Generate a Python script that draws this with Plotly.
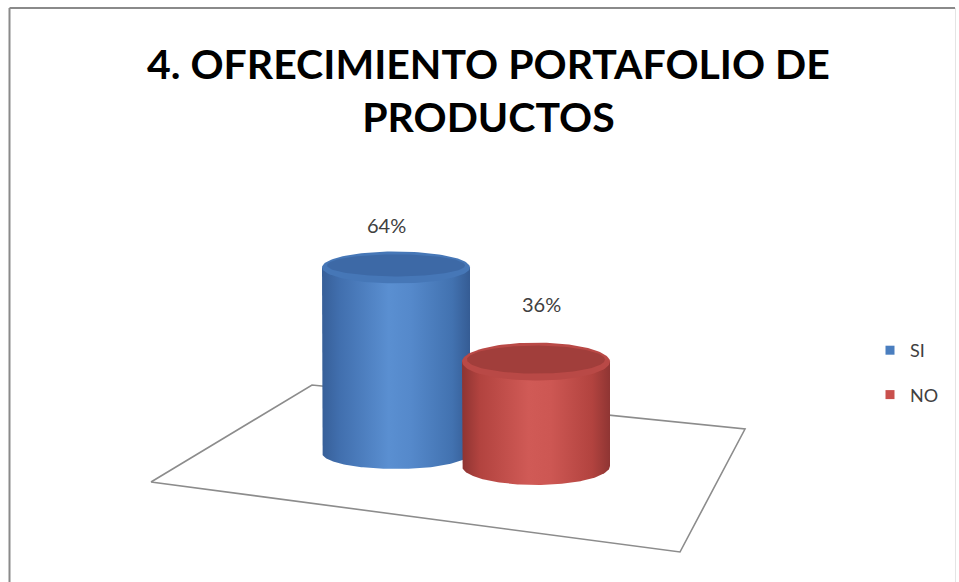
import numpy as np
import plotly.graph_objects as go

# ---- data ----
categories = ["SI", "NO"]
values = [64, 36]  # percent
colors_main = ["#4a7ebf", "#c9504d"]

# ---- layout of the pseudo-3D scene (pixel-like coordinates) ----
W, H = 959, 582
base_cx = [396, 536]          # centre of each cylinder base
base_cy = [453, 466]
radius_x = [74, 74]
radius_y = [16, 19]
px_per_pct = 2.9
label_gap = [42, 58]
label_dx = [-10, 5]

body_scales = [
    [[0, "#375f98"], [0.12, "#416fae"], [0.45, "#5a8fd1"], [0.6, "#5589cb"], [0.88, "#4272b0"], [1, "#355c94"]],
    [[0, "#8e3432"], [0.12, "#b2433f"], [0.45, "#d05a56"], [0.6, "#cd5753"], [0.88, "#b2433f"], [1, "#8f3533"]],
]
top_rim = ["#4677b7", "#b94946"]
top_inner = ["#3d69a6", "#a13e3b"]

fig = go.Figure()

# floor parallelogram
floor = [(151, 482), (312, 385), (745, 429), (680, 552), (151, 482)]
fig.add_trace(go.Scatter(
    x=[p[0] for p in floor], y=[p[1] for p in floor], mode="lines",
    line=dict(color="#8c8c8c", width=1.6), showlegend=False, hoverinfo="skip"))


def ellipse(cx, cy, a, b, t0=0, t1=2 * np.pi, n=120):
    t = np.linspace(t0, t1, n)
    return cx + a * np.cos(t), cy + b * np.sin(t)


annotations = []
for i, (cat, v) in enumerate(zip(categories, values)):
    cx, cy, a, b = base_cx[i], base_cy[i], radius_x[i], radius_y[i]
    top = cy - v * px_per_pct
    # body: left side down, front half of the base ellipse (y axis is reversed), right side up
    lx, ly = ellipse(cx, cy, a, b, np.pi, 0)
    xs = np.concatenate([[cx - a], lx, [cx + a, cx - a]])
    ys = np.concatenate([[top], ly, [top, top]])
    fig.add_trace(go.Scatter(
        x=xs, y=ys, fill="toself", mode="lines", line=dict(width=0),
        fillgradient=dict(type="horizontal", colorscale=body_scales[i]),
        showlegend=False, hoverinfo="skip"))
    # top face: lighter rim with darker inner disc
    ex, ey = ellipse(cx, top, a, b)
    fig.add_trace(go.Scatter(x=ex, y=ey, fill="toself", mode="lines", line=dict(width=0),
                             fillcolor=top_rim[i], showlegend=False, hoverinfo="skip"))
    ix, iy = ellipse(cx, top - 2, a - 5, b - 5)
    fig.add_trace(go.Scatter(x=ix, y=iy, fill="toself", mode="lines", line=dict(width=0),
                             fillcolor=top_inner[i], showlegend=False, hoverinfo="skip"))
    annotations.append(dict(
        x=cx + label_dx[i], y=top - label_gap[i], xref="x", yref="y",
        text=f"{v}%", showarrow=False,
        font=dict(family="Lato, Carlito, sans-serif", size=20, color="#404040")))

# legend entries
for i, cat in enumerate(categories):
    fig.add_trace(go.Scatter(
        x=[None], y=[None], mode="markers", name=cat, legendgroup=cat,
        marker=dict(symbol="square", size=9, color=colors_main[i])))

annotations.append(dict(
    x=488, y=90, xref="x", yref="y", yanchor="middle",
    text="4. OFRECIMIENTO PORTAFOLIO DE<br>PRODUCTOS", showarrow=False,
    font=dict(family="Lato, sans-serif", size=41, color="#000000", weight="bold")))

shapes = [
    dict(type="line", xref="paper", yref="paper", x0=9.5 / W, x1=955 / W, y0=1 - 8 / H, y1=1 - 8 / H,
         line=dict(color="#8a8a8a", width=2)),
    dict(type="line", xref="paper", yref="paper", x0=9.5 / W, x1=9.5 / W, y0=0, y1=1 - 8 / H,
         line=dict(color="#8a8a8a", width=2)),
    dict(type="line", xref="paper", yref="paper", x0=955.5 / W, x1=955.5 / W, y0=0, y1=1 - 8 / H,
         line=dict(color="#e4e4e4", width=1)),
]

fig.update_layout(
    width=W, height=H, margin=dict(l=0, r=0, t=0, b=0),
    paper_bgcolor="white", plot_bgcolor="white",
    xaxis=dict(range=[0, W], visible=False, fixedrange=True),
    yaxis=dict(range=[H, 0], visible=False, fixedrange=True),
    showlegend=True,
    legend=dict(x=870 / W, y=1 - 332 / H, xanchor="left", yanchor="top",
                tracegroupgap=18, traceorder="grouped",
                font=dict(family="Lato, sans-serif", size=18, color="#404040"),
                itemwidth=30),
    annotations=annotations, shapes=shapes,
)

fig.write_html("out.html")
